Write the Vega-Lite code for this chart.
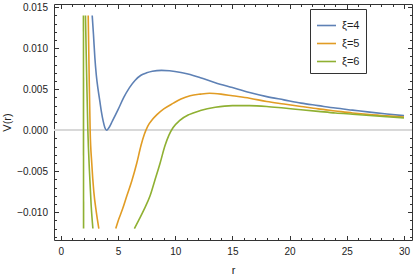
{
  "$schema": "https://vega.github.io/schema/vega-lite/v6.json",
  "width": 358,
  "height": 236,
  "autosize": {"type": "none"},
  "padding": {"left": 54, "top": 4, "right": 3, "bottom": 37},
  "config": {
    "font": "Liberation Sans",
    "view": {"stroke": null},
    "axis": {"grid": false, "domainColor": "#333", "tickColor": "#333", "labelColor": "#222", "labelFontSize": 10, "titleFontSize": 11, "titleFontWeight": "normal", "titleColor": "#222", "labelFont": "Liberation Sans", "titleFont": "Liberation Sans"}
  },
  "data": {"values": [
    {"xi":"ξ=4","seg":"b","r":2.74,"V":0.014},
    {"xi":"ξ=4","seg":"b","r":2.85,"V":0.0117},
    {"xi":"ξ=4","seg":"b","r":2.97,"V":0.0089},
    {"xi":"ξ=4","seg":"b","r":3.1,"V":0.0067},
    {"xi":"ξ=4","seg":"b","r":3.25,"V":0.0050},
    {"xi":"ξ=4","seg":"b","r":3.4,"V":0.0036},
    {"xi":"ξ=4","seg":"b","r":3.55,"V":0.0022},
    {"xi":"ξ=4","seg":"b","r":3.7,"V":0.0011},
    {"xi":"ξ=4","seg":"b","r":3.85,"V":0.0003},
    {"xi":"ξ=4","seg":"b","r":4.0,"V":0.0},
    {"xi":"ξ=4","seg":"b","r":4.2,"V":0.0003},
    {"xi":"ξ=4","seg":"b","r":4.5,"V":0.0011},
    {"xi":"ξ=4","seg":"b","r":5.0,"V":0.0025},
    {"xi":"ξ=4","seg":"b","r":5.5,"V":0.0040},
    {"xi":"ξ=4","seg":"b","r":6.0,"V":0.0052},
    {"xi":"ξ=4","seg":"b","r":6.5,"V":0.0061},
    {"xi":"ξ=4","seg":"b","r":7.0,"V":0.0067},
    {"xi":"ξ=4","seg":"b","r":7.5,"V":0.0070},
    {"xi":"ξ=4","seg":"b","r":8.0,"V":0.0072},
    {"xi":"ξ=4","seg":"b","r":8.8,"V":0.0073},
    {"xi":"ξ=4","seg":"b","r":9.5,"V":0.00725},
    {"xi":"ξ=4","seg":"b","r":10.5,"V":0.00705},
    {"xi":"ξ=4","seg":"b","r":11.3,"V":0.0068},
    {"xi":"ξ=4","seg":"b","r":12.2,"V":0.0064},
    {"xi":"ξ=4","seg":"b","r":13.5,"V":0.0058},
    {"xi":"ξ=4","seg":"b","r":15.0,"V":0.0052},
    {"xi":"ξ=4","seg":"b","r":16.5,"V":0.0046},
    {"xi":"ξ=4","seg":"b","r":18.0,"V":0.0041},
    {"xi":"ξ=4","seg":"b","r":19.5,"V":0.0037},
    {"xi":"ξ=4","seg":"b","r":21.0,"V":0.0033},
    {"xi":"ξ=4","seg":"b","r":22.5,"V":0.0030},
    {"xi":"ξ=4","seg":"b","r":24.0,"V":0.0027},
    {"xi":"ξ=4","seg":"b","r":25.5,"V":0.00245},
    {"xi":"ξ=4","seg":"b","r":27.0,"V":0.0022},
    {"xi":"ξ=4","seg":"b","r":28.5,"V":0.00197},
    {"xi":"ξ=4","seg":"b","r":30.0,"V":0.00177},

    {"xi":"ξ=5","seg":"a","r":2.39,"V":0.014},
    {"xi":"ξ=5","seg":"a","r":2.47,"V":0.007},
    {"xi":"ξ=5","seg":"a","r":2.56,"V":0.0},
    {"xi":"ξ=5","seg":"a","r":2.7,"V":-0.004},
    {"xi":"ξ=5","seg":"a","r":2.88,"V":-0.0075},
    {"xi":"ξ=5","seg":"a","r":3.1,"V":-0.0100},
    {"xi":"ξ=5","seg":"a","r":3.32,"V":-0.012},
    {"xi":"ξ=5","seg":"b","r":4.8,"V":-0.012},
    {"xi":"ξ=5","seg":"b","r":5.0,"V":-0.0111},
    {"xi":"ξ=5","seg":"b","r":5.4,"V":-0.0096},
    {"xi":"ξ=5","seg":"b","r":5.77,"V":-0.0080},
    {"xi":"ξ=5","seg":"b","r":6.2,"V":-0.0062},
    {"xi":"ξ=5","seg":"b","r":6.64,"V":-0.0040},
    {"xi":"ξ=5","seg":"b","r":7.0,"V":-0.0019},
    {"xi":"ξ=5","seg":"b","r":7.3,"V":-0.0005},
    {"xi":"ξ=5","seg":"b","r":7.6,"V":0.0005},
    {"xi":"ξ=5","seg":"b","r":8.0,"V":0.0013},
    {"xi":"ξ=5","seg":"b","r":8.4,"V":0.0019},
    {"xi":"ξ=5","seg":"b","r":9.0,"V":0.0026},
    {"xi":"ξ=5","seg":"b","r":9.84,"V":0.0033},
    {"xi":"ξ=5","seg":"b","r":10.5,"V":0.0038},
    {"xi":"ξ=5","seg":"b","r":11.3,"V":0.0042},
    {"xi":"ξ=5","seg":"b","r":12.2,"V":0.0044},
    {"xi":"ξ=5","seg":"b","r":13.0,"V":0.0045},
    {"xi":"ξ=5","seg":"b","r":14.0,"V":0.0044},
    {"xi":"ξ=5","seg":"b","r":15.0,"V":0.0042},
    {"xi":"ξ=5","seg":"b","r":16.5,"V":0.0039},
    {"xi":"ξ=5","seg":"b","r":18.0,"V":0.0035},
    {"xi":"ξ=5","seg":"b","r":19.5,"V":0.0032},
    {"xi":"ξ=5","seg":"b","r":21.0,"V":0.0029},
    {"xi":"ξ=5","seg":"b","r":22.5,"V":0.0026},
    {"xi":"ξ=5","seg":"b","r":24.0,"V":0.00235},
    {"xi":"ξ=5","seg":"b","r":25.5,"V":0.0021},
    {"xi":"ξ=5","seg":"b","r":27.0,"V":0.0019},
    {"xi":"ξ=5","seg":"b","r":28.5,"V":0.00175},
    {"xi":"ξ=5","seg":"b","r":30.0,"V":0.0016},

    {"xi":"ξ=6","seg":"p","r":1.975,"V":0.014},
    {"xi":"ξ=6","seg":"p","r":1.985,"V":-0.012},
    {"xi":"ξ=6","seg":"a","r":2.15,"V":0.014},
    {"xi":"ξ=6","seg":"a","r":2.25,"V":0.007},
    {"xi":"ξ=6","seg":"a","r":2.36,"V":0.0},
    {"xi":"ξ=6","seg":"a","r":2.5,"V":-0.005},
    {"xi":"ξ=6","seg":"a","r":2.65,"V":-0.0092},
    {"xi":"ξ=6","seg":"a","r":2.8,"V":-0.012},
    {"xi":"ξ=6","seg":"b","r":6.43,"V":-0.012},
    {"xi":"ξ=6","seg":"b","r":6.8,"V":-0.0110},
    {"xi":"ξ=6","seg":"b","r":7.3,"V":-0.0096},
    {"xi":"ξ=6","seg":"b","r":7.8,"V":-0.0080},
    {"xi":"ξ=6","seg":"b","r":8.2,"V":-0.0062},
    {"xi":"ξ=6","seg":"b","r":8.68,"V":-0.0040},
    {"xi":"ξ=6","seg":"b","r":9.1,"V":-0.0019},
    {"xi":"ξ=6","seg":"b","r":9.45,"V":-0.0006},
    {"xi":"ξ=6","seg":"b","r":9.8,"V":0.0003},
    {"xi":"ξ=6","seg":"b","r":10.4,"V":0.0012},
    {"xi":"ξ=6","seg":"b","r":11.2,"V":0.0019},
    {"xi":"ξ=6","seg":"b","r":12.2,"V":0.0024},
    {"xi":"ξ=6","seg":"b","r":13.5,"V":0.0028},
    {"xi":"ξ=6","seg":"b","r":15.0,"V":0.0030},
    {"xi":"ξ=6","seg":"b","r":16.5,"V":0.0030},
    {"xi":"ξ=6","seg":"b","r":18.0,"V":0.0029},
    {"xi":"ξ=6","seg":"b","r":19.5,"V":0.0027},
    {"xi":"ξ=6","seg":"b","r":21.0,"V":0.0025},
    {"xi":"ξ=6","seg":"b","r":22.5,"V":0.0023},
    {"xi":"ξ=6","seg":"b","r":24.0,"V":0.0021},
    {"xi":"ξ=6","seg":"b","r":25.5,"V":0.00195},
    {"xi":"ξ=6","seg":"b","r":27.0,"V":0.0018},
    {"xi":"ξ=6","seg":"b","r":28.5,"V":0.00165},
    {"xi":"ξ=6","seg":"b","r":30.0,"V":0.0015}
  ]},
  "resolve": {"axis": {"x": "independent", "y": "independent"}},
  "layer": [
    {
      "mark": {"type": "rule", "color": "#d8d8d8", "strokeWidth": 1.3},
      "encoding": {"y": {"datum": 0, "type": "quantitative", "scale": {"domain": [-0.0134, 0.0154], "nice": false, "zero": false}, "axis": null}}
    },
    {
      "mark": {"type": "point", "opacity": 0},
      "encoding": {
        "x": {"field": "r", "type": "quantitative", "scale": {"domain": [-0.6, 30.7], "nice": false, "zero": false},
          "axis": {"orient": "top", "title": null, "labels": false, "values": [0,1,2,3,4,5,6,7,8,9,10,11,12,13,14,15,16,17,18,19,20,21,22,23,24,25,26,27,28,29,30],
            "tickSize": {"condition": {"test": "datum.value % 5 === 0", "value": -4.5}, "value": -2.5}}},
        "y": {"field": "V", "type": "quantitative", "scale": {"domain": [-0.0134, 0.0154], "nice": false, "zero": false},
          "axis": {"orient": "right", "title": null, "labels": false, "values": [-0.013,-0.012,-0.011,-0.01,-0.009,-0.008,-0.007,-0.006,-0.005,-0.004,-0.003,-0.002,-0.001,0,0.001,0.002,0.003,0.004,0.005,0.006,0.007,0.008,0.009,0.01,0.011,0.012,0.013,0.014,0.015],
            "tickSize": {"condition": {"test": "abs(round(datum.value*1000)) % 5 === 0", "value": -4.5}, "value": -2.5}}}
      }
    },
    {
      "mark": {"type": "line", "strokeWidth": 1.6, "clip": true, "interpolate": "monotone"},
      "encoding": {
        "x": {"field": "r", "type": "quantitative", "scale": {"domain": [-0.6, 30.7], "nice": false, "zero": false},
          "axis": {"orient": "bottom", "title": "r", "values": [0,1,2,3,4,5,6,7,8,9,10,11,12,13,14,15,16,17,18,19,20,21,22,23,24,25,26,27,28,29,30],
            "labelExpr": "datum.value % 5 === 0 ? datum.label : ''", "labelPadding": 11, "titlePadding": 8,
            "tickSize": {"condition": {"test": "datum.value % 5 === 0", "value": -4.5}, "value": -2.5}}},
        "y": {"field": "V", "type": "quantitative", "scale": {"domain": [-0.0134, 0.0154], "nice": false, "zero": false},
          "axis": {"orient": "left", "title": "V(r)", "format": ".3f", "values": [-0.013,-0.012,-0.011,-0.01,-0.009,-0.008,-0.007,-0.006,-0.005,-0.004,-0.003,-0.002,-0.001,0,0.001,0.002,0.003,0.004,0.005,0.006,0.007,0.008,0.009,0.01,0.011,0.012,0.013,0.014,0.015],
            "labelExpr": "abs(round(datum.value*1000)) % 5 === 0 ? datum.label : ''", "labelPadding": 11, "titlePadding": 4,
            "tickSize": {"condition": {"test": "abs(round(datum.value*1000)) % 5 === 0", "value": -4.5}, "value": -2.5}}},
        "color": {"field": "xi", "type": "nominal", "scale": {"domain": ["ξ=4","ξ=5","ξ=6"], "range": ["#5E81B5","#E19C24","#8FB032"]},
          "legend": {"title": null, "orient": "none", "legendX": 256, "legendY": 5, "strokeColor": "#333", "fillColor": "white", "padding": 6,
            "symbolType": "stroke", "symbolSize": 361, "symbolStrokeWidth": 1.6, "labelFontSize": 11, "labelOffset": 5, "rowPadding": 2, "labelColor": "#222"}},
        "detail": {"field": "seg"}
      }
    }
  ]
}
